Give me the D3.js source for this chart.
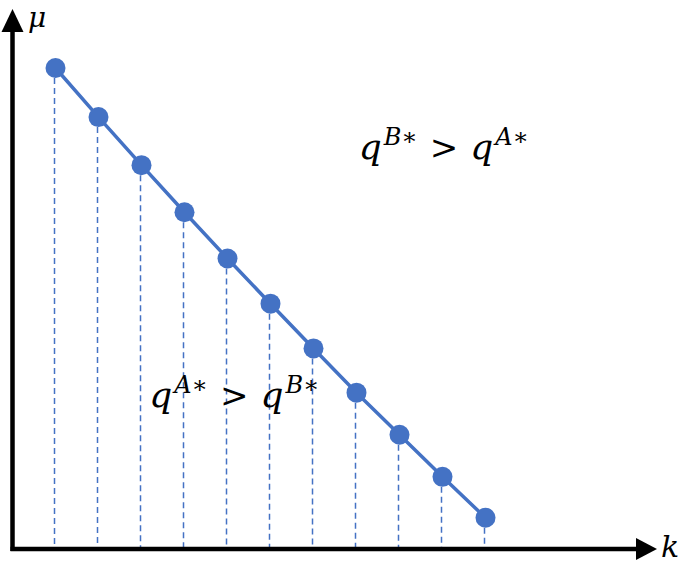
<!DOCTYPE html>
<html>
<head>
<meta charset="utf-8">
<script src="https://cdn.jsdelivr.net/npm/d3@7"></script>
<style>
  body { margin: 0; background: #fff; }
  svg { display: block; }
</style>
</head>
<body>
<div id="chart"></div>
<script>
// k (x) and mu (y) of each point on the boundary
const kValues = [1, 2, 3, 4, 5, 6, 7, 8, 9, 10, 11];
const muValues = [10, 8.98, 7.98, 7.0, 6.04, 5.1, 4.17, 3.25, 2.375, 1.5, 0.65];
const axisLabels = ['μ', 'k'];
const regionLabels = [
  { base: 'q', sup: 'B∗', rel: '>', base2: 'q', sup2: 'A∗', k: 8.05, mu: 8.1 },
  { base: 'q', sup: 'A∗', rel: '>', base2: 'q', sup2: 'B∗', k: 3.18, mu: 2.95 }
];

const width = 685, height = 567;
const blue = '#4472c4';
const mathFont = "'DejaVu Serif', 'Liberation Serif', serif";

const svg = d3.select('#chart').append('svg')
  .attr('width', width)
  .attr('height', height);

const x = d3.scaleLinear().domain([0, 11]).range([12.5, 485.5]);
const y = d3.scaleLinear().domain([0, 10]).range([549, 68]);

const pts = kValues.map((k, i) => ({ k, mu: muValues[i] }));

// dashed drop lines
svg.append('g').attr('class', 'drops')
  .selectAll('line')
  .data(pts)
  .join('line')
  .attr('x1', d => x(d.k) - 1)
  .attr('x2', d => x(d.k) - 1)
  .attr('y1', d => y(d.mu) + 10)
  .attr('y2', y(0))
  .attr('stroke', blue)
  .attr('stroke-width', 1.5)
  .attr('stroke-dasharray', '6 4');

// axes with arrowheads
const axes = svg.append('g').attr('class', 'axes');
axes.append('line')
  .attr('x1', x(0)).attr('y1', y(0) + 2)
  .attr('x2', x(0)).attr('y2', 28)
  .attr('stroke', '#000').attr('stroke-width', 4.5);
axes.append('path')
  .attr('d', `M${x(0)},9 L${x(0) - 11},32 L${x(0) + 11},32 Z`)
  .attr('fill', '#000');
axes.append('line')
  .attr('x1', x(0) - 2).attr('y1', y(0))
  .attr('x2', 640).attr('y2', y(0))
  .attr('stroke', '#000').attr('stroke-width', 4.5);
axes.append('path')
  .attr('d', `M657,${y(0)} L636,${y(0) - 11} L636,${y(0) + 11} Z`)
  .attr('fill', '#000');

axes.append('text')
  .attr('x', 28).attr('y', 27)
  .attr('font-family', mathFont).attr('font-style', 'italic')
  .attr('font-size', 28)
  .text(axisLabels[0]);
axes.append('text')
  .attr('x', 661).attr('y', 557)
  .attr('font-family', mathFont).attr('font-style', 'italic')
  .attr('font-size', 30)
  .text(axisLabels[1]);

// boundary line and points
svg.append('path')
  .datum(pts)
  .attr('fill', 'none')
  .attr('stroke', blue)
  .attr('stroke-width', 3.5)
  .attr('d', d3.line().x(d => x(d.k)).y(d => y(d.mu)));

svg.append('g').attr('class', 'dots')
  .selectAll('circle')
  .data(pts)
  .join('circle')
  .attr('cx', d => x(d.k))
  .attr('cy', d => y(d.mu))
  .attr('r', 10)
  .attr('fill', blue);

// region labels
regionLabels.forEach(r => {
  const t = svg.append('text')
    .attr('x', x(r.k)).attr('y', y(r.mu))
    .attr('font-family', mathFont).attr('font-style', 'italic')
    .attr('font-size', 36);
  t.append('tspan').text(r.base);
  t.append('tspan').attr('font-size', 24).attr('dy', -14).attr('dx', 2).text(r.sup);
  t.append('tspan').attr('font-style', 'normal').attr('font-size', 34).attr('dy', 14).attr('dx', 12).text(r.rel);
  t.append('tspan').attr('dx', 12).text(r.base2);
  t.append('tspan').attr('font-size', 24).attr('dy', -14).attr('dx', 2).text(r.sup2);
});
</script>
</body>
</html>
